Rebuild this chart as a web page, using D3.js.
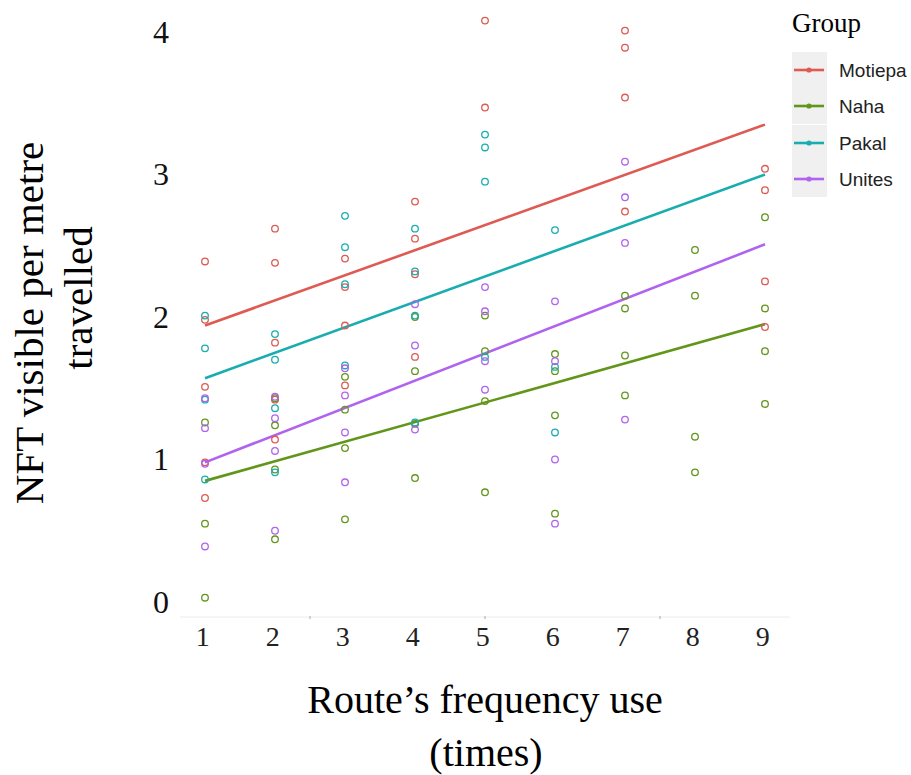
<!DOCTYPE html>
<html>
<head>
<meta charset="utf-8">
<script src="https://cdn.jsdelivr.net/npm/d3@7"></script>
<style>
  body { margin: 0; background: #fff; }
  svg { display: block; }
</style>
</head>
<body>
<svg id="canvas" width="911" height="775"></svg>
<script>
const groups = ['Motiepa', 'Naha', 'Pakal', 'Unites'];
const colors = ['#de5a52', '#62961a', '#19adb0', '#b063ee'];

// points, read per group as [x, y]
const motiepaPts = [
  [1, 2.39], [1, 1.98], [1, 1.51], [1, 0.73], [1, 0.98],
  [2, 2.62], [2, 2.38], [2, 1.82], [2, 1.42], [2, 1.14],
  [3, 2.41], [3, 2.21], [3, 1.94], [3, 1.52],
  [4, 2.81], [4, 2.55], [4, 2.30], [4, 1.72],
  [5, 4.08], [5, 3.47],
  [7, 4.01], [7, 3.89], [7, 3.54], [7, 2.74],
  [9, 3.04], [9, 2.89], [9, 2.25], [9, 1.93]
];
const nahaPts = [
  [1, 1.26], [1, 0.55], [1, 0.03],
  [2, 1.43], [2, 1.24], [2, 0.93], [2, 0.44],
  [3, 1.58], [3, 1.35], [3, 1.08], [3, 0.58],
  [4, 2.00], [4, 1.62], [4, 1.25], [4, 0.87],
  [5, 2.01], [5, 1.76], [5, 1.41], [5, 0.77],
  [6, 1.74], [6, 1.62], [6, 1.31], [6, 0.62],
  [7, 2.15], [7, 2.06], [7, 1.73], [7, 1.45],
  [8, 2.47], [8, 2.15], [8, 1.16], [8, 0.91],
  [9, 2.70], [9, 2.06], [9, 1.76], [9, 1.39]
];
const pakalPts = [
  [1, 2.01], [1, 1.78], [1, 1.42], [1, 0.86],
  [2, 1.88], [2, 1.70], [2, 1.36], [2, 0.91],
  [3, 2.71], [3, 2.49], [3, 2.23], [3, 1.66],
  [4, 2.62], [4, 2.32], [4, 2.01], [4, 1.26],
  [5, 3.28], [5, 3.19], [5, 2.95], [5, 1.72],
  [6, 2.61], [6, 1.65], [6, 1.19]
];
const unitesPts = [
  [1, 1.43], [1, 1.22], [1, 0.97], [1, 0.39],
  [2, 1.44], [2, 1.29], [2, 1.06], [2, 0.50],
  [3, 1.64], [3, 1.45], [3, 1.19], [3, 0.84],
  [4, 2.09], [4, 1.80], [4, 1.21],
  [5, 2.21], [5, 2.04], [5, 1.69], [5, 1.49],
  [6, 2.11], [6, 1.69], [6, 1.00], [6, 0.55],
  [7, 3.09], [7, 2.84], [7, 2.52], [7, 1.28]
];
const points = [motiepaPts, nahaPts, pakalPts, unitesPts];

// fitted lines: value at x = 1 and x = 9
const fitStart = [1.94, 0.85, 1.57, 0.98];
const fitEnd = [3.35, 1.95, 3.00, 2.51];

const xTicks = [1, 2, 3, 4, 5, 6, 7, 8, 9];
const yTicks = [0, 1, 2, 3, 4];
const minorTicks = [2.5, 5, 7.5];

const canvas = d3.select('#canvas');
const serif = '"Liberation Serif", "Times New Roman", serif';

const x = d3.scaleLinear().domain([1, 9]).range([205, 765]);
const y = d3.scaleLinear().domain([0, 4]).range([602, 32]);

// x axis
const xAxis = canvas.append('g')
  .attr('transform', 'translate(0,617)')
  .call(d3.axisBottom(x).tickValues(xTicks).tickFormat(d3.format('d')).tickSize(0).tickPadding(9));
xAxis.select('.domain').attr('stroke', '#ececec').attr('d', 'M180,0H790');
xAxis.selectAll('text')
  .attr('dx', '-0.1em')
  .style('font-family', serif).style('font-size', '28px').attr('fill', '#222');

canvas.append('g').selectAll('line')
  .data(minorTicks)
  .join('line')
  .attr('x1', d => x(d)).attr('x2', d => x(d))
  .attr('y1', 616).attr('y2', 619)
  .attr('stroke', '#aaa');

// y axis
const yAxis = canvas.append('g')
  .attr('transform', 'translate(172,0)')
  .call(d3.axisLeft(y).tickValues(yTicks).tickFormat(d3.format('d')).tickSize(0).tickPadding(3));
yAxis.select('.domain').remove();
yAxis.selectAll('text')
  .style('font-family', serif).style('font-size', '32px').attr('fill', '#111');

// fit lines
groups.forEach((g, i) => {
  canvas.append('line')
    .attr('x1', x(1)).attr('y1', y(fitStart[i]))
    .attr('x2', x(9)).attr('y2', y(fitEnd[i]))
    .attr('stroke', colors[i])
    .attr('stroke-width', 2.6);
});

// points
groups.forEach((g, i) => {
  canvas.append('g').selectAll('circle')
    .data(points[i])
    .join('circle')
    .attr('cx', d => x(d[0]))
    .attr('cy', d => y(d[1]))
    .attr('r', 3.3)
    .attr('fill', 'none')
    .attr('stroke', colors[i])
    .attr('stroke-width', 1.3);
});

// axis titles
canvas.append('text')
  .attr('transform', 'translate(43,323) rotate(-90)')
  .attr('text-anchor', 'middle')
  .style('font-family', serif).style('font-size', '41px')
  .text('NFT visible per metre');
canvas.append('text')
  .attr('transform', 'translate(92,298) rotate(-90)')
  .attr('text-anchor', 'middle')
  .style('font-family', serif).style('font-size', '41px')
  .text('travelled');

canvas.append('text')
  .attr('x', 485).attr('y', 713)
  .attr('text-anchor', 'middle')
  .style('font-family', serif).style('font-size', '40px')
  .text('Route\u2019s frequency use');
canvas.append('text')
  .attr('x', 486).attr('y', 766)
  .attr('text-anchor', 'middle')
  .style('font-family', serif).style('font-size', '40px')
  .text('(times)');

// legend
const legend = canvas.append('g');
legend.append('text')
  .attr('x', 792).attr('y', 32)
  .style('font-family', serif).style('font-size', '27px')
  .text('Group');

const rowTop = [52, 88, 125, 161];
groups.forEach((g, i) => {
  const row = legend.append('g').attr('transform', `translate(792,${rowTop[i]})`);
  row.append('rect')
    .attr('width', 35).attr('height', 36)
    .attr('fill', '#f0f0f0');
  row.append('line')
    .attr('x1', 2).attr('x2', 32)
    .attr('y1', 18).attr('y2', 18)
    .attr('stroke', colors[i]).attr('stroke-width', 2.6);
  row.append('circle')
    .attr('cx', 17).attr('cy', 18).attr('r', 2.6)
    .attr('fill', colors[i]);
  row.append('text')
    .attr('x', 47).attr('y', 18).attr('dy', '0.35em')
    .style('font-family', '"Liberation Sans", Arial, sans-serif')
    .style('font-size', '19px')
    .attr('fill', '#222')
    .text(g);
});
</script>
</body>
</html>
